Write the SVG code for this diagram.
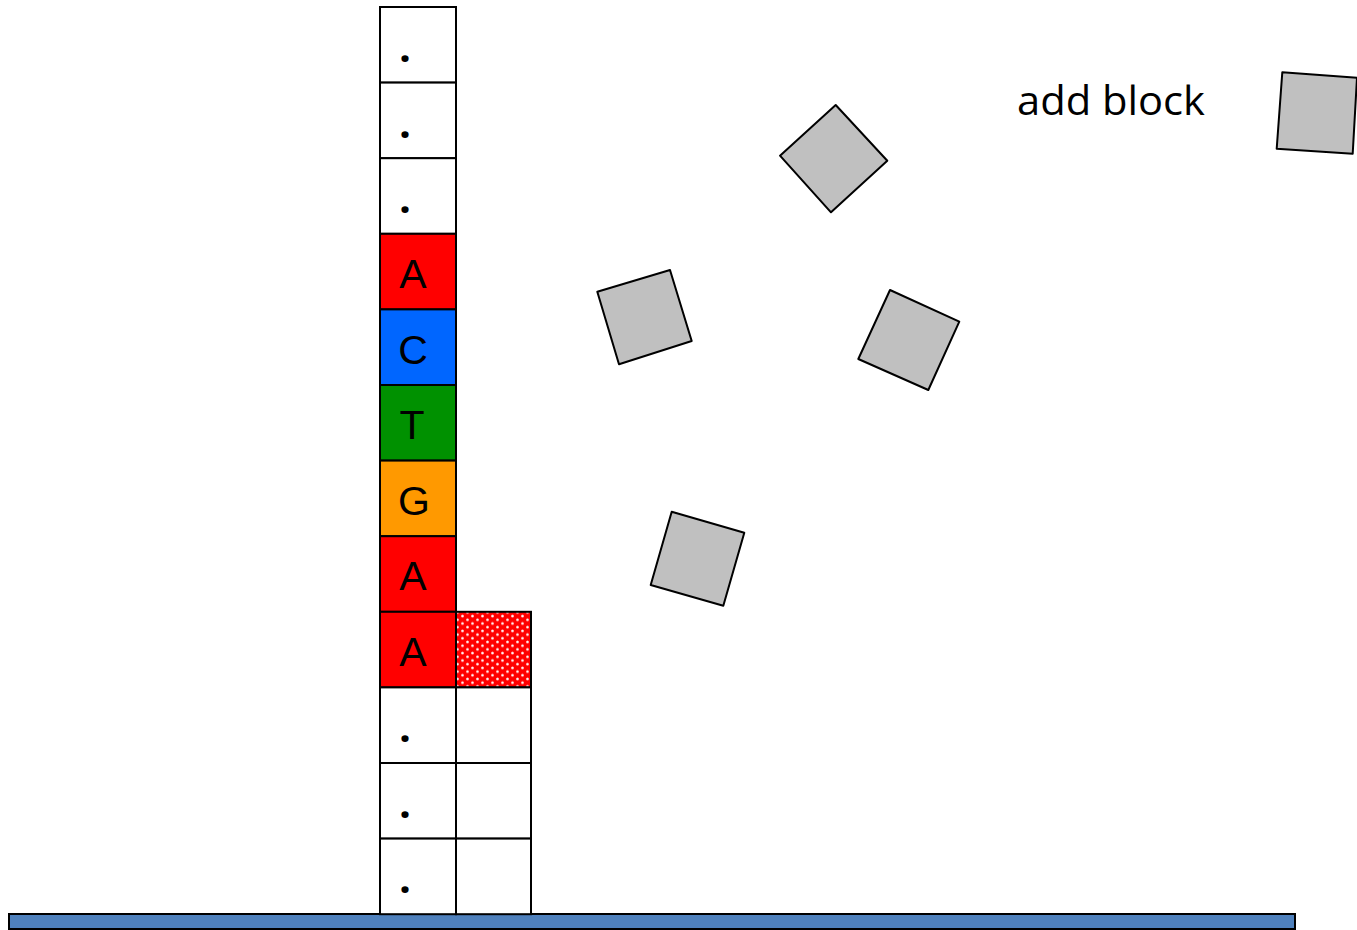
<svg xmlns="http://www.w3.org/2000/svg" width="1357" height="930" viewBox="0 0 1357 930">
<style>
.cell{stroke:#000;stroke-width:2}
.w{fill:#fff}
.blk{fill:#c0c0c0;stroke:#000;stroke-width:2;stroke-linejoin:round}
.t{font-family:"Liberation Sans",Arial,sans-serif;font-size:41px;fill:#000}
.d{font-family:"Open Sans","Liberation Sans",sans-serif;font-size:42px;font-weight:bold;fill:#000}
.lbl{font-family:"Open Sans","Liberation Sans",sans-serif;font-size:40px;fill:#000}
</style>
<defs>
<pattern id="dots" width="10" height="7.4" patternUnits="userSpaceOnUse">
<rect width="10" height="7.4" fill="#ff0000"/>
<circle cx="2.5" cy="1.85" r="1.4" fill="#ffd0d0"/>
<circle cx="7.5" cy="5.55" r="1.4" fill="#ffd0d0"/>
<circle cx="2.5" cy="1.85" r="0.8" fill="#fff"/>
<circle cx="7.5" cy="5.55" r="0.8" fill="#fff"/>
</pattern>
</defs>
<rect id="ground" x="9" y="914" width="1286" height="15" fill="#4f81bd" stroke="#000" stroke-width="2"/>
<g id="stack">
<rect class="cell w" x="380" y="7" width="76" height="75.6"/>
<rect class="cell w" x="380" y="82.6" width="76" height="75.6"/>
<rect class="cell w" x="380" y="158.2" width="76" height="75.6"/>
<rect class="cell" fill="#ff0000" x="380" y="233.8" width="76" height="75.6"/>
<rect class="cell" fill="#0066ff" x="380" y="309.4" width="76" height="75.6"/>
<rect class="cell" fill="#009100" x="380" y="385" width="76" height="75.6"/>
<rect class="cell" fill="#ff9900" x="380" y="460.6" width="76" height="75.6"/>
<rect class="cell" fill="#ff0000" x="380" y="536.2" width="76" height="75.6"/>
<rect class="cell" fill="#ff0000" x="380" y="611.8" width="76" height="75.6"/>
<rect class="cell w" x="380" y="687.4" width="76" height="75.6"/>
<rect class="cell w" x="380" y="763" width="76" height="75.6"/>
<rect class="cell w" x="380" y="838.6" width="76" height="75.6"/>
<rect class="cell" fill="url(#dots)" x="456" y="611.8" width="75" height="75.6"/>
<rect class="cell w" x="456" y="687.4" width="75" height="75.6"/>
<rect class="cell w" x="456" y="763" width="75" height="75.6"/>
<rect class="cell w" x="456" y="838.6" width="75" height="75.6"/>
<text class="d" x="405" y="62" text-anchor="middle">.</text>
<text class="d" x="405" y="138" text-anchor="middle">.</text>
<text class="d" x="405" y="213" text-anchor="middle">.</text>
<text class="t" x="413" y="288" text-anchor="middle">A</text>
<text class="t" x="413" y="364" text-anchor="middle">C</text>
<text class="t" x="412" y="439" text-anchor="middle">T</text>
<text class="t" x="414" y="515" text-anchor="middle">G</text>
<text class="t" x="413" y="590" text-anchor="middle">A</text>
<text class="t" x="413" y="666" text-anchor="middle">A</text>
<text class="d" x="405" y="742" text-anchor="middle">.</text>
<text class="d" x="405" y="818" text-anchor="middle">.</text>
<text class="d" x="405" y="893" text-anchor="middle">.</text>
</g>
<g id="block1"><polygon class="blk" points="835.7,105 887.3,160.7 831,212.3 780,155.7"/></g>
<g id="block2"><polygon class="blk" points="1282.3,72.3 1357,77.7 1352.7,153.7 1276.7,148.7"/></g>
<g id="block3"><polygon class="blk" points="597.3,291.7 670,270 691.7,341 619,364.3"/></g>
<g id="block4"><polygon class="blk" points="890,290 959.3,321.7 928.3,390 858.3,359"/></g>
<g id="block5"><polygon class="blk" points="671.7,511.7 744.3,532.7 723.3,605.7 650.7,585"/></g>
<g id="label"><text class="lbl" x="1017" y="115" textLength="188" lengthAdjust="spacingAndGlyphs">add block</text></g>
<g id="connectors"/>
</svg>
